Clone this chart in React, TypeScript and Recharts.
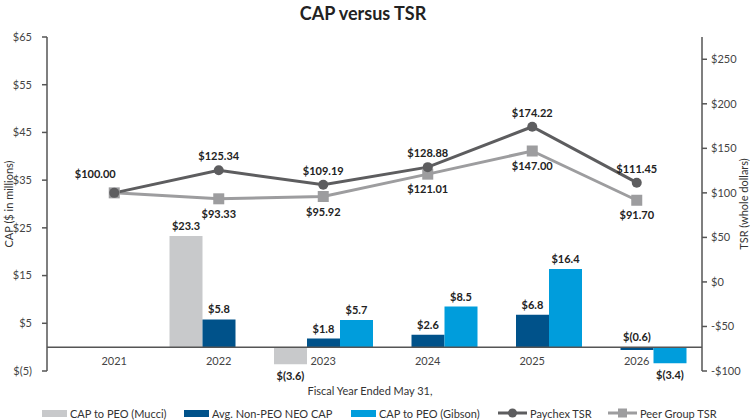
import { ComposedChart, Bar, Line, XAxis, YAxis, ReferenceLine, LabelList } from "recharts";

const years = ["2021", "2022", "2023", "2024", "2025", "2026"];
const capMucci = [null, 23.3, -3.6, null, null, null];
const capNeo = [null, 5.8, 1.8, 2.6, 6.8, -0.6];
const capGibson = [null, null, 5.7, 8.5, 16.4, -3.4];
const paychexTsr = [100, 125.34, 109.19, 128.88, 174.22, 111.45];
const peerTsr = [100, 93.33, 95.92, 121.01, 147.0, 91.7];

const capTicks = [-5, 5, 15, 25, 35, 45, 55, 65];
const tsrTicks = [-100, -50, 0, 50, 100, 150, 200, 250];

const data = years.map((year, i) => ({
  year,
  mucci: capMucci[i],
  neo: capNeo[i],
  gibson: capGibson[i],
  paychex: paychexTsr[i],
  peer: peerTsr[i],
}));

const FONT = "Lato, 'Open Sans', sans-serif";
const C_MUCCI = "#c8c9cb";
const C_NEO = "#00528a";
const C_GIBSON = "#009ddc";
const C_PAYCHEX = "#5d5d5f";
const C_PEER = "#9d9d9f";
const AXIS = "#555";

const money = (v: number) => (v < 0 ? `$(${Math.abs(v)})` : `$${v}`);

const BarValue = (props: any) => {
  const { x, y, width, height, value } = props;
  if (value == null) return null;
  const top = Math.min(y, y + height);
  const bottom = Math.max(y, y + height);
  const below = value < -1;
  return (
    <text
      x={x + width / 2}
      y={below ? bottom + 16 : top - 6}
      textAnchor="middle"
      fontSize={11}
      fontWeight={700}
      fill="#222"
    >
      {money(value)}
    </text>
  );
};

const PaychexValue = (props: any) => {
  const { x, y, value, index } = props;
  const first = index === 0;
  return (
    <text
      x={first ? x - 19 : x}
      y={first ? y - 15 : y - 10}
      textAnchor="middle"
      fontSize={11}
      fontWeight={700}
      fill="#222"
    >
      ${value.toFixed(2)}
    </text>
  );
};

const PeerValue = (props: any) => {
  const { x, y, value, index } = props;
  if (index === 0) return null;
  return (
    <text x={x} y={y + 19} textAnchor="middle" fontSize={11} fontWeight={700} fill="#222">
      ${value.toFixed(2)}
    </text>
  );
};

const SquareDot = (props: any) => {
  const { cx, cy } = props;
  if (cx == null || cy == null) return null;
  return <rect x={cx - 5.5} y={cy - 5.5} width={11} height={11} fill={C_PEER} />;
};

const YearTick = (props: any) => {
  const { x, y, payload } = props;
  return (
    <text x={x} y={y} dy={-6} textAnchor="middle" fontSize={11} fill="#444">
      {payload.value}
    </text>
  );
};

const legendItems = [
  { label: "CAP to PEO (Mucci)", color: C_MUCCI, kind: "bar", left: 42 },
  { label: "Avg. Non-PEO NEO CAP", color: C_NEO, kind: "bar", left: 184 },
  { label: "CAP to PEO (Gibson)", color: C_GIBSON, kind: "bar", left: 351 },
  { label: "Paychex TSR", color: C_PAYCHEX, kind: "circle", left: 498 },
  { label: "Peer Group TSR", color: C_PEER, kind: "square", left: 608 },
];

function LegendIcon({ kind, color }: { kind: string; color: string }) {
  if (kind === "bar") {
    return <div style={{ width: 25, height: 7, background: color }} />;
  }
  return (
    <svg width={29} height={12}>
      <line x1={0} y1={6} x2={29} y2={6} stroke={color} strokeWidth={3} />
      {kind === "circle" ? (
        <circle cx={14.5} cy={6} r={4.5} fill={color} />
      ) : (
        <rect x={10} y={1.5} width={9} height={9} fill={color} />
      )}
    </svg>
  );
}

export default function App() {
  return (
    <div style={{ position: "absolute", left: 0, top: 0, width: 750, height: 420, fontFamily: FONT, background: "#fff" }}>
      <div
        style={{
          position: "absolute",
          top: 2,
          left: 0,
          width: 726,
          textAlign: "center",
          fontSize: 18,
          fontWeight: 700,
          color: "#222",
        }}
      >
        CAP versus TSR
      </div>
      <ComposedChart
        width={750}
        height={420}
        data={data}
        margin={{ top: 37, right: 0, bottom: 0, left: 0 }}
        barGap={0}
        barSize={33}
        style={{ fontFamily: FONT }}
      >
        <XAxis
          dataKey="year"
          height={49}
          axisLine={false}
          tickLine={false}
          tickSize={0}
          tickMargin={0}
          padding={{ left: 15, right: 13 }}
          tick={<YearTick />}
          label={{
            content: () => (
              <text x={370} y={395} textAnchor="middle" fontSize={11} fill="#333">
                Fiscal Year Ended May 31,
              </text>
            ),
          }}
        />
        <YAxis
          yAxisId="left"
          width={47}
          domain={[-5, 65]}
          ticks={capTicks}
          tickFormatter={money}
          tick={{ fontSize: 11, fill: "#444" }}
          stroke={AXIS}
          strokeWidth={1.5}
          tickSize={5}
          tickMargin={10}
          label={{
            content: () => (
              <text
                transform="translate(8,204) rotate(-90)"
                textAnchor="middle"
                dominantBaseline="central"
                fontSize={11}
                fill="#333"
              >
                CAP ($ in millions)
              </text>
            ),
          }}
        />
        <YAxis
          yAxisId="right"
          orientation="right"
          width={48}
          domain={[-100, 275]}
          ticks={tsrTicks}
          tickFormatter={(v: number) => (v < 0 ? `-$${Math.abs(v)}` : `$${v}`)}
          tick={{ fontSize: 11, fill: "#444", textAnchor: "start" }}
          stroke={AXIS}
          strokeWidth={1.5}
          tickSize={5}
          tickMargin={4}
          label={{
            content: () => (
              <text
                transform="translate(743,204) rotate(-90)"
                textAnchor="middle"
                dominantBaseline="central"
                fontSize={11}
                fill="#333"
              >
                TSR (whole dollars)
              </text>
            ),
          }}
        />
        <ReferenceLine yAxisId="left" y={0} stroke={AXIS} strokeWidth={1.5} />
        <Bar yAxisId="left" dataKey="mucci" fill={C_MUCCI} isAnimationActive={false}>
          <LabelList dataKey="mucci" content={<BarValue />} />
        </Bar>
        <Bar yAxisId="left" dataKey="neo" fill={C_NEO} isAnimationActive={false}>
          <LabelList dataKey="neo" content={<BarValue />} />
        </Bar>
        <Bar yAxisId="left" dataKey="gibson" fill={C_GIBSON} isAnimationActive={false}>
          <LabelList dataKey="gibson" content={<BarValue />} />
        </Bar>
        <Line
          yAxisId="right"
          dataKey="peer"
          stroke={C_PEER}
          strokeWidth={3}
          dot={<SquareDot />}
          activeDot={false}
          isAnimationActive={false}
        >
          <LabelList dataKey="peer" content={<PeerValue />} />
        </Line>
        <Line
          yAxisId="right"
          dataKey="paychex"
          stroke={C_PAYCHEX}
          strokeWidth={3}
          dot={{ r: 5, fill: C_PAYCHEX, stroke: "none" }}
          activeDot={false}
          isAnimationActive={false}
        >
          <LabelList dataKey="paychex" content={<PaychexValue />} />
        </Line>
      </ComposedChart>
      {legendItems.map((item) => (
        <div
          key={item.label}
          style={{
            position: "absolute",
            left: item.left,
            top: 406,
            height: 14,
            display: "flex",
            alignItems: "center",
            gap: 3,
            fontSize: 11,
            color: "#333",
            whiteSpace: "nowrap",
          }}
        >
          <LegendIcon kind={item.kind} color={item.color} />
          <span>{item.label}</span>
        </div>
      ))}
    </div>
  );
}
